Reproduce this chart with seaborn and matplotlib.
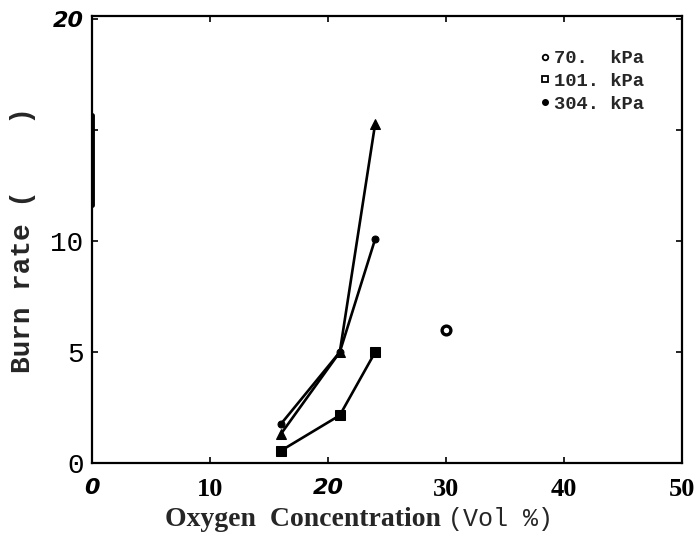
import numpy as np
import pandas as pd
import matplotlib
matplotlib.use('Agg')
import matplotlib.pyplot as plt
from matplotlib.lines import Line2D
import seaborn as sns

# data
oxygen = [16, 21, 24]
rate_tri = [1.3, 5.0, 15.3]
rate_dot = [1.75, 5.0, 10.1]
rate_sq = [0.55, 2.15, 5.0]
single_x = [30]
single_y = [6.0]

legend_labels = ['70.  kPa', '101. kPa', '304. kPa']
xticks = [0, 10, 20, 30, 40, 50]
xtick_labels = ['0', '10', '20', '30', '40', '50']
yticks = [0, 5, 10, 15, 20]
ytick_labels = ['0', '5', '10', '', '20']

sns.set_style('ticks')
plt.rcParams['font.family'] = ['DejaVu Sans']

fig = plt.figure(figsize=(6.98, 5.38), dpi=100)
ax = fig.add_axes([0.1318, 0.1394, 0.8452, 0.8306])

df_tri = pd.DataFrame({'x': oxygen, 'y': rate_tri})
df_dot = pd.DataFrame({'x': oxygen, 'y': rate_dot})
df_sq = pd.DataFrame({'x': oxygen, 'y': rate_sq})

sns.lineplot(data=df_tri, x='x', y='y', ax=ax, color='black', lw=1.9,
             marker='^', markersize=7, markeredgecolor='black')
sns.lineplot(data=df_dot, x='x', y='y', ax=ax, color='black', lw=1.9,
             marker='o', markersize=5, markeredgecolor='black')
sns.lineplot(data=df_sq, x='x', y='y', ax=ax, color='black', lw=1.9,
             marker='s', markersize=7.5, markeredgecolor='black')
sns.scatterplot(x=single_x, y=single_y, ax=ax, marker='o', s=40,
                facecolor='white', edgecolor='black', linewidth=2.4)

ax.set_xlim(0, 50)
ax.set_ylim(0, 20.15)

ax.set_xticks(xticks)
ax.set_xticklabels(xtick_labels)
ax.set_yticks(yticks)
ax.set_yticklabels(ytick_labels)
ax.tick_params(direction='in', length=4.5, width=1.2, top=True, right=True,
               colors='black')
ax.tick_params(axis='x', pad=11)
ax.tick_params(axis='y', pad=6)

for lab in ax.get_xticklabels():
    if lab.get_text() in ('0', '20'):
        lab.set_fontfamily('DejaVu Sans')
        lab.set_fontstyle('italic')
        lab.set_fontweight('bold')
        lab.set_fontsize(16)
    else:
        lab.set_fontfamily('Liberation Serif')
        lab.set_fontweight('bold')
        lab.set_fontsize(19)
for lab in ax.get_yticklabels():
    if lab.get_text() == '20':
        lab.set_fontfamily('DejaVu Sans')
        lab.set_fontstyle('italic')
        lab.set_fontweight('bold')
        lab.set_fontsize(16)
    else:
        lab.set_fontfamily('Liberation Mono')
        lab.set_fontsize(20)

for side in ['left', 'right', 'top', 'bottom']:
    ax.spines[side].set_linewidth(1.6)
    ax.spines[side].set_color('black')
# darker scan smudge on the left axis
ax.axvline(0, ymin=0.577, ymax=0.778, color='black', lw=3.5)

ax.set_xlabel('')
ax.set_ylabel('Burn rate (    )', fontfamily='Liberation Mono',
              fontweight='bold', fontsize=20)
ax.yaxis.set_label_coords(-0.095, 0.5)

fig.text(0.632, 0.022, 'Oxygen  Concentration', ha='right', va='baseline',
         fontfamily='Liberation Serif', fontweight='bold', fontsize=20)
fig.text(0.642, 0.022, '(Vol %)', ha='left', va='baseline',
         fontfamily='Liberation Mono', fontsize=18)

handles = [
    Line2D([], [], ls='none', marker='o', markersize=4, markerfacecolor='white',
           markeredgecolor='black', markeredgewidth=1.3),
    Line2D([], [], ls='none', marker='s', markersize=4, markerfacecolor='white',
           markeredgecolor='black', markeredgewidth=1.3),
    Line2D([], [], ls='none', marker='o', markersize=4, color='black'),
]
leg = ax.legend(handles, legend_labels, loc='upper right',
                bbox_to_anchor=(0.965, 0.962), frameon=False,
                handlelength=0.6, handletextpad=0.2, labelspacing=0.3,
                prop={'family': 'Liberation Mono', 'weight': 'bold', 'size': 13.5})

fig.savefig('out.png', dpi=100, facecolor='white')
